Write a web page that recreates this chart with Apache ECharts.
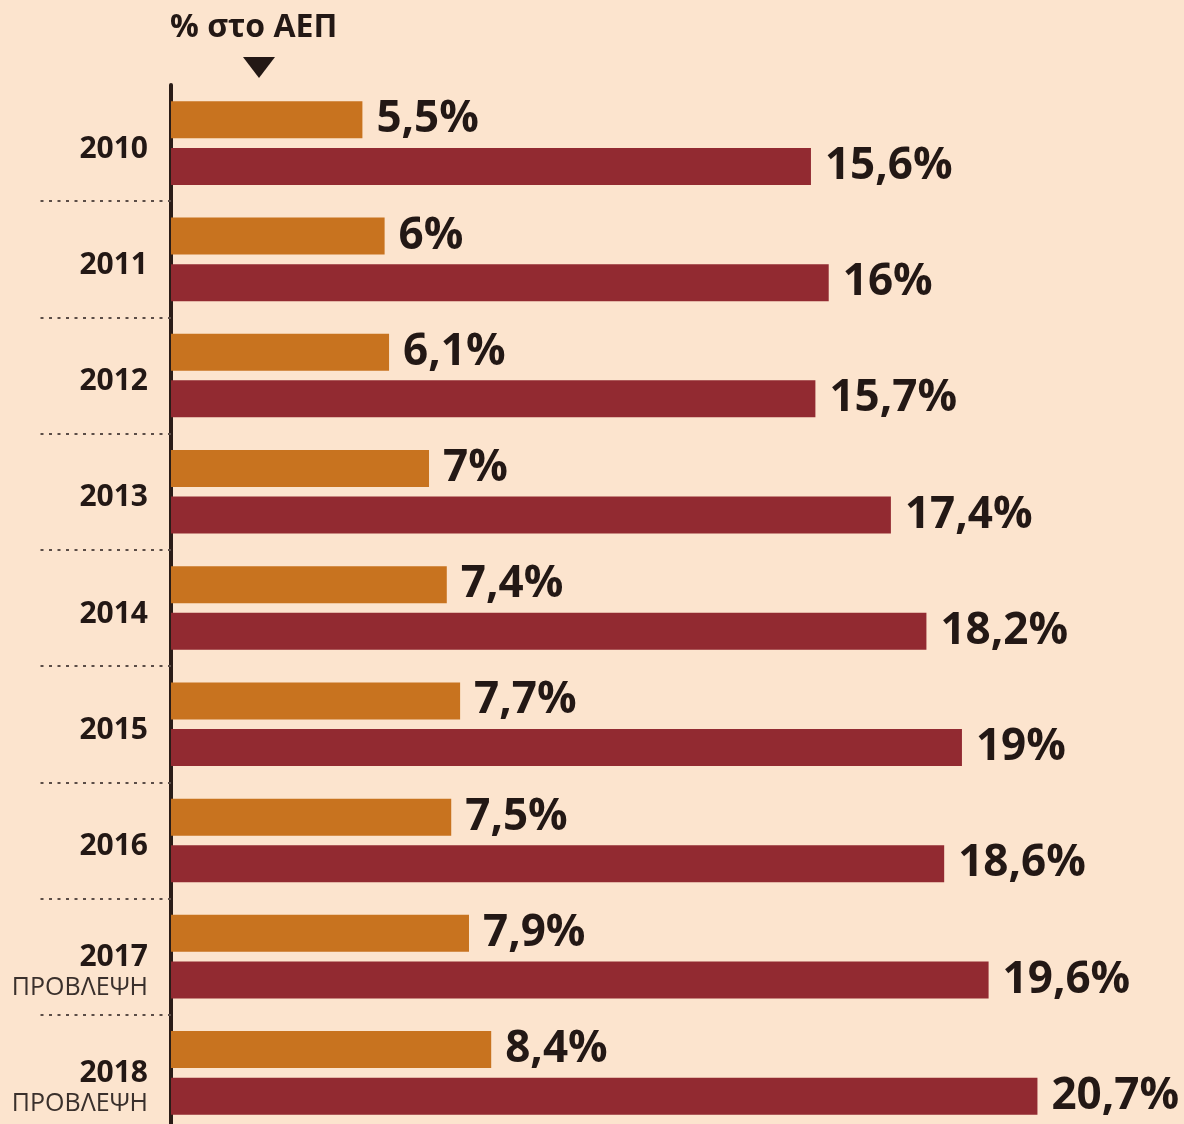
<!DOCTYPE html>
<html>
<head>
<meta charset="utf-8">
<script src="https://cdn.jsdelivr.net/npm/echarts@6/dist/echarts.min.js"></script>
<style>
  html, body { margin: 0; padding: 0; background: #FCE4CE; }
  #chart { width: 1184px; height: 1124px; }
</style>
</head>
<body>
<div id="chart"></div>
<script>
// ---- data ----
const years = ['2010', '2011', '2012', '2013', '2014', '2015', '2016', '2017', '2018'];
const isForecast = [false, false, false, false, false, false, false, true, true];
const forecastWord = 'ΠΡΟΒΛΕΨΗ';
const orangeValues = [5.5, 6, 6.1, 7, 7.4, 7.7, 7.5, 7.9, 8.4];
const redValues = [15.6, 16, 15.7, 17.4, 18.2, 19, 18.6, 19.6, 20.7];
const titleText = '% στο ΑΕΠ';

const FONT = '"Open Sans", "DejaVu Sans", sans-serif';
const DARK = '#231815';

const chart = echarts.init(document.getElementById('chart'), null, { renderer: 'canvas' });

const labelCfg = {
  show: true,
  position: 'right',
  distance: 14,
  color: DARK,
  fontFamily: FONT,
  fontWeight: 'bold',
  fontSize: 44,
  formatter: p => String(p.value).replace('.', ',') + '%'
};

chart.setOption({
  backgroundColor: '#FCE4CE',
  animation: false,
  title: {
    text: titleText,
    left: 165,
    top: 7,
    textStyle: { fontFamily: FONT, fontWeight: 'bold', fontSize: 32, color: DARK }
  },
  graphic: [{
    type: 'polygon',
    shape: { points: [[243, 57], [275, 57], [259, 78]] },
    style: { fill: DARK }
  }],
  grid: { left: 171, top: 85, width: 1013, height: 1046, outerBoundsMode: 'none', containLabel: false },
  xAxis: {
    type: 'value',
    min: 1.19,
    max: 24,
    show: false
  },
  yAxis: {
    type: 'category',
    data: years,
    inverse: true,
    axisLine: { show: true, lineStyle: { color: '#2a1c17', width: 4 } },
    axisTick: {
      show: true,
      length: 136,
      interval: (index) => index > 0,
      lineStyle: { color: '#5b4d47', width: 2, type: [3, 5.5] }
    },
    axisLabel: {
      margin: 23,
      formatter: (value, index) => isForecast[index]
        ? '{sf| }\n{y|' + value + '}\n{p|' + forecastWord + '}'
        : '{s| }\n{y|' + value + '}',
      rich: {
        s: { fontSize: 10, lineHeight: 12 },
        sf: { fontSize: 10, lineHeight: 32 },
        y: { fontFamily: FONT, fontWeight: 'bold', fontSize: 30, color: DARK, lineHeight: 30 },
        p: { fontFamily: FONT, fontWeight: 'normal', fontSize: 25, color: '#3a302c', lineHeight: 30 }
      }
    }
  },
  series: [
    {
      name: 'Σειρά 1',
      type: 'bar',
      data: orangeValues,
      barWidth: 37,
      barGap: '26%',
      itemStyle: { color: '#C8731F' },
      label: labelCfg,
      clip: true
    },
    {
      name: 'Σειρά 2',
      type: 'bar',
      data: redValues,
      barWidth: 37,
      barGap: '26%',
      itemStyle: { color: '#922A31' },
      label: labelCfg,
      clip: true
    }
  ]
});
</script>
</body>
</html>
